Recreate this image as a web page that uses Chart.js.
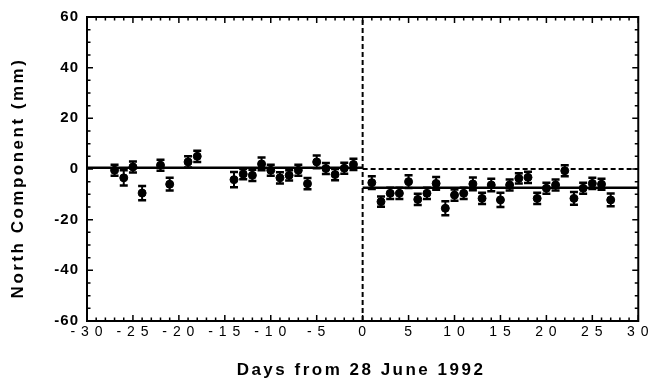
<!DOCTYPE html>
<html>
<head>
<meta charset="utf-8">
<script src="https://cdn.jsdelivr.net/npm/chart.js@4"></script>
<style>
  html, body { margin: 0; padding: 0; background: #fff; }
  #wrap { width: 651px; height: 385px; }
</style>
</head>
<body>
<div id="wrap"><canvas id="chart" width="651" height="385"></canvas></div>
<script>
// Days relative to 28 June 1992, north displacement in mm
const daysBefore = [-27, -26, -25, -24, -22, -21, -19, -18, -14, -13, -12, -11, -10, -9, -8, -7, -6, -5, -4, -3, -2, -1];
const northBefore = [-0.5, -3.5, 0.8, -9.5, 1.5, -6, 2.8, 5, -4.2, -2, -2.5, 2, -0.5, -3.5, -2.5, -0.5, -5.8, 2.8, 0.2, -2.2, 0.3, 1.8];
const errBefore = [2.2, 3, 2.2, 2.8, 2.2, 2.5, 2.2, 2.2, 3, 2, 2.2, 2.5, 2.2, 2.2, 2, 2.2, 2.2, 2.5, 2.2, 2.2, 2.2, 2.2];

const daysAfter = [1, 2, 3, 4, 5, 6, 7, 8, 9, 10, 11, 12, 13, 14, 15, 16, 17, 18, 19, 20, 21, 22, 23, 24, 25, 26, 27];
const northAfter = [-5.4, -12.9, -9.6, -9.6, -5, -12, -9.6, -5.7, -15.5, -10.3, -9.6, -5.9, -11.6, -6.3, -12.2, -6.3, -3.7, -3.3, -11.6, -7.6, -6.3, -0.7, -11.6, -7.6, -5.7, -6, -12.2];
const errAfter = [2.5, 2, 2.2, 2.2, 2.5, 2.2, 2.2, 2.5, 2.8, 2.2, 2.2, 2.5, 2.2, 2.5, 2.8, 2.2, 2, 2.2, 2.2, 2.2, 2.2, 2.2, 2.5, 2.2, 2.2, 2.2, 2.5];

// mean levels before / after the event
const fitBefore = 0.5;
const fitAfter = -7.4;

const xTickValues = [-30, -25, -20, -15, -10, -5, 0, 5, 10, 15, 20, 25, 30];
const yTickValues = [-60, -40, -20, 0, 20, 40, 60];

const FONT = "'Liberation Sans', Arial, sans-serif";

const pts = (xs, ys) => xs.map((x, i) => ({ x: x, y: ys[i] }));

// error bars with caps, drawn under the dots
const errorBars = {
    id: 'errorBars',
    beforeDatasetsDraw(chart) {
        const { ctx, scales: { x, y } } = chart;
        ctx.save();
        ctx.strokeStyle = '#000';
        chart.data.datasets.forEach(ds => {
            if (!ds.errors) return;
            ds.data.forEach((p, i) => {
                const px = x.getPixelForValue(p.x);
                const top = y.getPixelForValue(p.y + ds.errors[i]);
                const bot = y.getPixelForValue(p.y - ds.errors[i]);
                ctx.lineWidth = 2;
                ctx.beginPath();
                ctx.moveTo(px, top);
                ctx.lineTo(px, bot);
                ctx.stroke();
                ctx.lineWidth = 2.5;
                ctx.beginPath();
                ctx.moveTo(px - 4, top);
                ctx.lineTo(px + 4, top);
                ctx.moveTo(px - 4, bot);
                ctx.lineTo(px + 4, bot);
                ctx.stroke();
            });
        });
        ctx.restore();
    }
};

// box frame with inward ticks on all four sides
const frame = {
    id: 'frame',
    beforeDraw(chart) {
        chart.ctx.letterSpacing = '1px';
    },
    afterDraw(chart) {
        const { ctx, chartArea: a, scales: { x, y } } = chart;
        ctx.save();
        ctx.letterSpacing = '0px';
        ctx.strokeStyle = '#000';
        ctx.lineWidth = 2;
        ctx.strokeRect(a.left, a.top, a.right - a.left, a.bottom - a.top);
        ctx.lineWidth = 1.5;
        ctx.beginPath();
        for (let d = x.min; d <= x.max; d++) {
            const px = x.getPixelForValue(d);
            const len = d % 5 === 0 ? 6 : 3.5;
            ctx.moveTo(px, a.bottom); ctx.lineTo(px, a.bottom - len);
            ctx.moveTo(px, a.top); ctx.lineTo(px, a.top + len);
        }
        for (let v = y.min; v <= y.max; v += 5) {
            const py = y.getPixelForValue(v);
            const len = v % 20 === 0 ? 6 : 3.5;
            ctx.moveTo(a.left, py); ctx.lineTo(a.left + len, py);
            ctx.moveTo(a.right, py); ctx.lineTo(a.right - len, py);
        }
        ctx.stroke();

        // axis titles
        ctx.fillStyle = '#000';
        ctx.font = 'bold 17px ' + FONT;
        ctx.letterSpacing = '2.5px';
        ctx.textAlign = 'center';
        ctx.textBaseline = 'middle';
        ctx.fillText('Days from 28 June 1992', 361, 370);
        ctx.translate(18, 178);
        ctx.rotate(-Math.PI / 2);
        ctx.fillText('North Component (mm)', 0, 0);
        ctx.restore();
    }
};

const lineStyle = { type: 'line', borderColor: '#000', pointRadius: 0, fill: false, order: 2 };

new Chart(document.getElementById('chart'), {
    type: 'scatter',
    data: {
        datasets: [
            { data: pts(daysBefore, northBefore), errors: errBefore, backgroundColor: '#000', borderColor: '#000', pointRadius: 4, order: 0 },
            { data: pts(daysAfter, northAfter), errors: errAfter, backgroundColor: '#000', borderColor: '#000', pointRadius: 4, order: 0 },
            Object.assign({ data: [{ x: -30, y: fitBefore }, { x: 0, y: fitBefore }], borderWidth: 2.5 }, lineStyle),
            Object.assign({ data: [{ x: 0, y: fitAfter }, { x: 30, y: fitAfter }], borderWidth: 2.5 }, lineStyle),
            Object.assign({ data: [{ x: 0, y: 0 }, { x: 30, y: 0 }], borderWidth: 2, borderDash: [5, 3] }, lineStyle),
            Object.assign({ data: [{ x: 0, y: -60 }, { x: 0, y: 60 }], borderWidth: 2, borderDash: [5, 3] }, lineStyle)
        ]
    },
    options: {
        responsive: false,
        animation: false,
        layout: { padding: { top: 17, right: 10, left: 0, bottom: 0 } },
        plugins: { legend: { display: false }, tooltip: { enabled: false } },
        scales: {
            x: {
                type: 'linear',
                min: -30,
                max: 30,
                afterBuildTicks: s => { s.ticks = xTickValues.map(v => ({ value: v })); },
                afterFit: s => { s.height = 64; },
                grid: { display: false, drawTicks: false },
                border: { display: false },
                ticks: {
                    padding: 3,
                    color: '#000',
                    font: { family: FONT, size: 14 },
                    maxRotation: 0,
                    autoSkip: false,
                    callback: v => String(v).split('').join(' ')
                }
            },
            y: {
                type: 'linear',
                min: -60,
                max: 60,
                afterBuildTicks: s => { s.ticks = yTickValues.map(v => ({ value: v })); },
                afterFit: s => { s.width = 87; },
                grid: { display: false, drawTicks: false },
                border: { display: false },
                ticks: {
                    padding: 8,
                    color: '#000',
                    font: { family: FONT, size: 15, weight: 'bold' }
                }
            }
        }
    },
    plugins: [errorBars, frame]
});
</script>
</body>
</html>
